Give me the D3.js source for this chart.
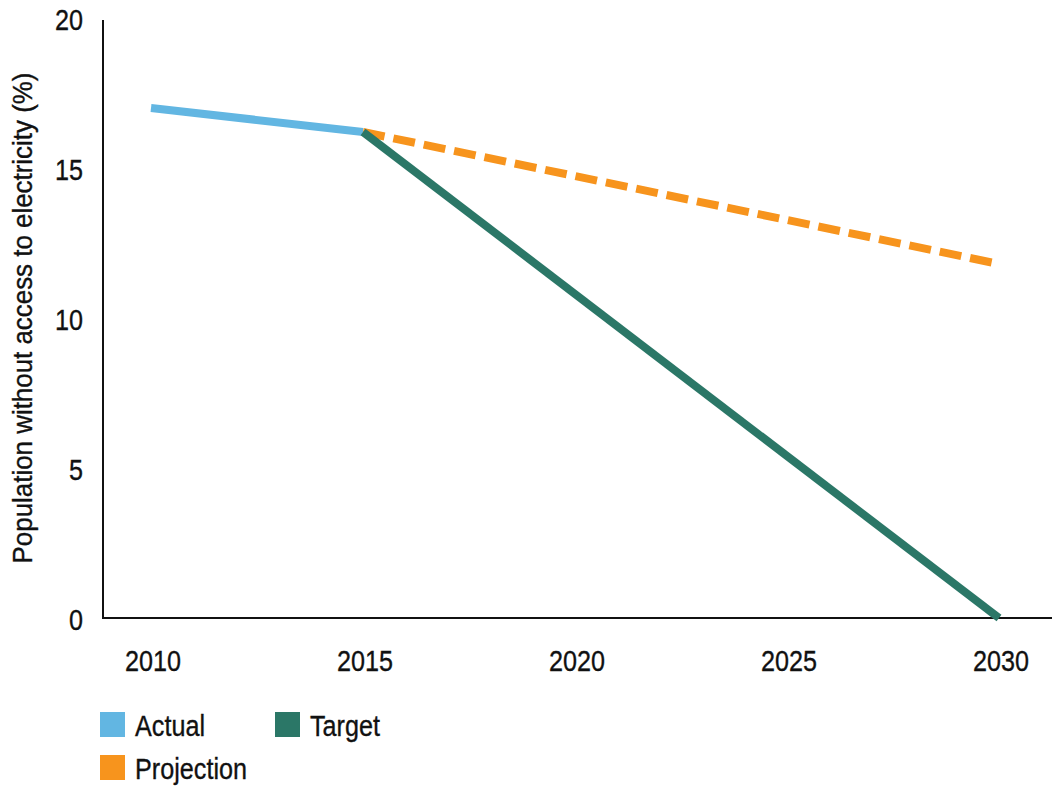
<!DOCTYPE html>
<html><head><meta charset="utf-8">
<script src="https://cdn.jsdelivr.net/npm/d3@7"></script>
<style>body{margin:0;background:#fff;} text{font-family:"Liberation Sans",Arial,sans-serif;fill:#111;stroke:#111;stroke-width:0.35px;}</style>
</head><body><svg id="c" width="1055" height="787"></svg>
<script>
const actualYears = [2010, 2015];
const actualValues = [17.0, 16.2];
const projectionYears = [2015, 2030];
const projectionValues = [16.2, 11.8];
const targetYears = [2015, 2030];
const targetValues = [16.2, 0];
const xTicks = [2010, 2015, 2020, 2025, 2030];
const yTicks = [0, 5, 10, 15, 20];
const yLabel = "Population without access to electricity (%)";
const legendItems = ["Actual", "Target", "Projection"];
const colors = {Actual: "#62b6e2", Target: "#2b7767", Projection: "#f7941d"};

const svg = d3.select("#c");
const x = d3.scaleLinear().domain([2010, 2030]).range([151, 999]);
const y = d3.scaleLinear().domain([0, 20]).range([618, 18]);
const SX = 0.84;

function ctext(px, py, str, anchor, size, rot) {
  const g = svg.append("g").attr("transform", `translate(${px},${py})` + (rot ? ` rotate(${rot})` : "") + ` scale(${SX},1)`);
  g.append("text").attr("text-anchor", anchor).attr("dy","0.36em").style("font-size", size + "px").text(str);
  return g;
}

// axes lines
svg.append("line").attr("x1",103).attr("x2",103).attr("y1",20).attr("y2",619).attr("stroke","#111").attr("stroke-width",2);
svg.append("line").attr("x1",102).attr("x2",1052).attr("y1",618).attr("y2",618).attr("stroke","#111").attr("stroke-width",2);

yTicks.forEach(d => ctext(83, y(d) + 1, d, "end", 30));
xTicks.forEach(d => ctext(x(d) + 2, 660, d, "middle", 30));

const ylg = svg.append("g").attr("transform","translate(22,318) rotate(-90) scale(0.925,1)");
ylg.append("text").attr("text-anchor","middle").attr("dy","0.36em").style("font-size","28px").text(yLabel);

const line = d3.line().x(d => x(d[0])).y(d => y(d[1]));
const series = [
  {name:"Actual", pts: d3.zip(actualYears, actualValues), dash:null},
  {name:"Projection", pts: d3.zip(projectionYears, projectionValues), dash:"22,9"},
  {name:"Target", pts: d3.zip(targetYears, targetValues), dash:null}
];
series.forEach(s => {
  svg.append("path").attr("d", line(s.pts)).attr("fill","none")
    .attr("stroke", colors[s.name]).attr("stroke-width", 8)
    .attr("stroke-dasharray", s.dash);
});

const legPos = [[100,712],[275,712],[100,755]];
legendItems.forEach((n,i) => {
  const [lx, ly] = legPos[i];
  svg.append("rect").attr("x",lx).attr("y",ly).attr("width",25).attr("height",25).attr("fill",colors[n]);
  ctext(lx + 35, ly + 13, n, "start", 30);
});
</script></body></html>
